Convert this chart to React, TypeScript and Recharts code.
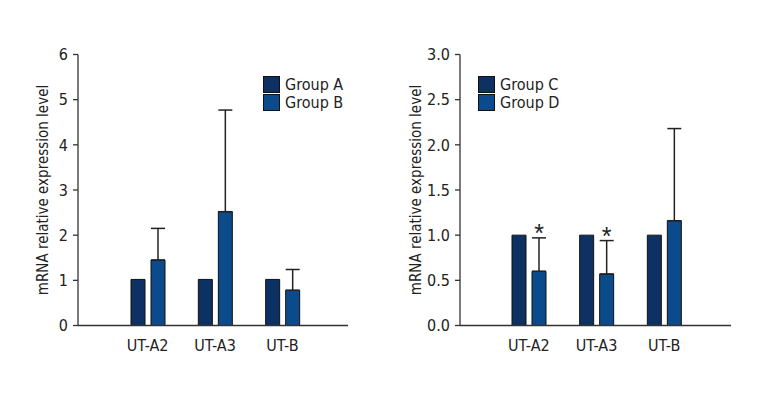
import React from "react";
import {
  Bar,
  ComposedChart,
  ErrorBar,
  LabelList,
  Legend,
  XAxis,
  YAxis,
} from "recharts";

// Two grouped bar panels with one-sided SD bars, journal-figure style.
const categories = ["UT-A2", "UT-A3", "UT-B"];

const groupA = [1.02, 1.02, 1.02];
const groupB = [1.45, 2.52, 0.78];
const groupBErr = [0.7, 2.25, 0.46];

const groupC = [1.0, 1.0, 1.0];
const groupD = [0.6, 0.57, 1.16];
const groupDErr = [0.37, 0.37, 1.02];
const groupDSig = [true, true, false];

const leftTicks = [0, 1, 2, 3, 4, 5, 6];
const rightTicks = [0, 0.5, 1, 1.5, 2, 2.5, 3];

const DARK = "#0d3163";
const LIGHT = "#0b4b8c";
const INK = "#222";
const FONT = '"Liberation Sans Narrow", "DejaVu Sans Condensed", sans-serif';

interface PanelProps {
  names: [string, string];
  first: number[];
  second: number[];
  secondErr: number[];
  sig?: boolean[];
  ticks: number[];
  decimals: number;
  yWidth: number;
  padLeft: number;
  padRight: number;
  marginRight: number;
  labelX: number;
  legendLeft: number;
}

function LegendBox({ payload }: { payload?: Array<{ value: string; color: string }> }) {
  if (!payload) return null;
  return (
    <div>
      {payload.map((e) => (
        <div key={e.value} style={{ display: "flex", alignItems: "center", height: 18.5 }}>
          <span
            style={{
              display: "inline-block",
              width: 15,
              height: 15,
              background: e.color,
              border: "1px solid #111",
            }}
          />
          <span style={{ marginLeft: 5, fontSize: 16, color: INK, fontFamily: FONT }}>{e.value}</span>
        </div>
      ))}
    </div>
  );
}

function Panel(p: PanelProps) {
  const rows = categories.map((c, i) => ({
    name: c,
    a: p.first[i],
    b: p.second[i],
    bErr: [0, p.secondErr[i]],
  }));

  // asterisk sits just above the error bar cap, measured through the bar's own scale
  const star = (props: any) => {
    const { x, y, width, height, index } = props;
    if (!p.sig || !p.sig[index]) return null;
    const perUnit = height / p.second[index];
    const top = y - p.secondErr[index] * perUnit;
    return (
      <text
        x={x + width / 2}
        y={top + 4}
        textAnchor="middle"
        fontSize={25}
        fill={INK}
        fontFamily='"Liberation Sans", sans-serif'
      >
        *
      </text>
    );
  };

  return (
    <ComposedChart
      width={380}
      height={400}
      data={rows}
      margin={{ top: 54.5, right: p.marginRight, bottom: 44.5, left: 0 }}
      barSize={14}
      barGap={6}
    >
      <XAxis
        dataKey="name"
        height={30}
        padding={{ left: p.padLeft, right: p.padRight }}
        tickLine={false}
        tickMargin={8}
        axisLine={{ stroke: "#333", strokeWidth: 1.3 }}
        tick={{ fontSize: 16, fill: INK, fontFamily: FONT }}
      />
      <YAxis
        type="number"
        domain={[p.ticks[0], p.ticks[p.ticks.length - 1]]}
        ticks={p.ticks}
        width={p.yWidth}
        tickSize={5}
        tickMargin={5}
        interval={0}
        tickFormatter={(v: number) => v.toFixed(p.decimals)}
        axisLine={{ stroke: "#333", strokeWidth: 1.3 }}
        tickLine={{ stroke: "#333", strokeWidth: 1.3 }}
        tick={{ fontSize: 16, fill: INK, fontFamily: FONT }}
        label={{
          value: "mRNA relative expression level",
          angle: -90,
          position: "insideLeft",
          offset: p.labelX,
          style: { textAnchor: "middle", fontSize: 15, fill: INK, fontFamily: FONT },
        }}
      />
      <Legend
        layout="vertical"
        align="center"
        verticalAlign="middle"
        wrapperStyle={{ left: p.legendLeft, top: 75, width: "auto" }}
        content={<LegendBox />}
      />
      <Bar dataKey="a" name={p.names[0]} fill={DARK} stroke="#111" strokeWidth={1} isAnimationActive={false} />
      <Bar dataKey="b" name={p.names[1]} fill={LIGHT} stroke="#111" strokeWidth={1} isAnimationActive={false}>
        <ErrorBar dataKey="bErr" width={7} stroke={INK} strokeWidth={1.5} direction="y" />
        {p.sig && <LabelList dataKey="b" content={star} />}
      </Bar>
    </ComposedChart>
  );
}

export default function App() {
  return (
    <div
      style={{
        position: "absolute",
        left: 0,
        top: 0,
        width: 760,
        height: 400,
        background: "#fff",
        fontFamily: FONT,
      }}
    >
      <div style={{ position: "absolute", left: 0, top: 0 }}>
        <Panel
          names={["Group A", "Group B"]}
          first={groupA}
          second={groupB}
          secondErr={groupBErr}
          ticks={leftTicks}
          decimals={0}
          yWidth={78}
          padLeft={36}
          padRight={32}
          marginRight={32}
          labelX={43}
          legendLeft={263}
        />
      </div>
      <div style={{ position: "absolute", left: 380, top: 0 }}>
        <Panel
          names={["Group C", "Group D"]}
          first={groupC}
          second={groupD}
          secondErr={groupDErr}
          sig={groupDSig}
          ticks={rightTicks}
          decimals={1}
          yWidth={80}
          padLeft={35}
          padRight={33}
          marginRight={29}
          labelX={36}
          legendLeft={98}
        />
      </div>
    </div>
  );
}
